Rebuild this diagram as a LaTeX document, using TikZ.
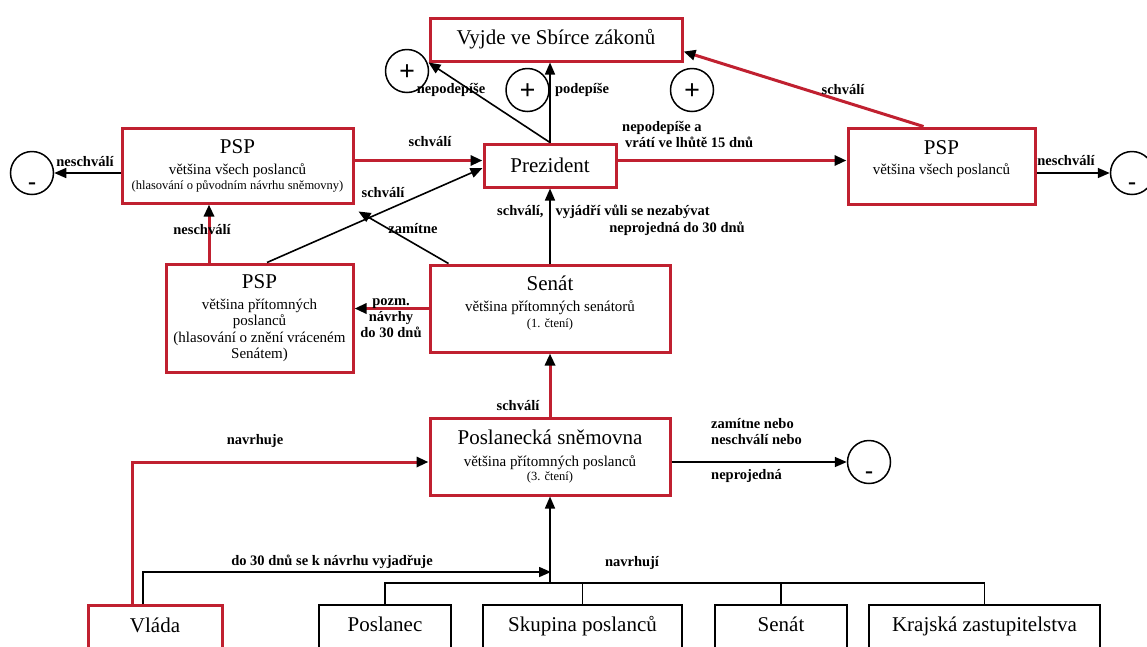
\documentclass[tikz,border=0pt]{standalone}
\usepackage{fontspec}
\setmainfont{Liberation Serif}
\usepackage{tikz}
\usetikzlibrary{arrows.meta}

\definecolor{lawred}{RGB}{192,32,48}

\newcommand{\ttlsize}{\fontsize{21}{24}\selectfont}
\newcommand{\subsize}{\fontsize{15}{16.5}\selectfont}
\newcommand{\smallsize}{\fontsize{12.5}{15}\selectfont}

\tikzset{
  redbox/.style={draw=lawred, line width=3pt, align=center, font=\subsize, inner sep=0pt},
  blackbox/.style={draw, line width=1.5pt, inner sep=0pt},
  bottombox/.style={anchor=north, font=\ttlsize, text height=27pt, text depth=25pt},
  signcirc/.style={draw, circle, line width=1.5pt, minimum size=43pt, inner sep=0pt},
  pluscirc/.style={signcirc, font=\fontsize{28}{28}\selectfont\bfseries, text height=18pt, text depth=0pt},
  minuscirc/.style={signcirc, font=\fontsize{24}{24}\selectfont\bfseries, text height=32pt, text depth=0pt},
  lbl/.style={font=\fontsize{14.5}{16}\selectfont\bfseries, inner sep=0pt},
  headtip/.style={-{Triangle[length=12pt,width=10pt,color=black]}},
  redarr/.style={draw=lawred, line width=3pt, headtip},
  blkarr/.style={draw=black, line width=1.6pt, headtip},
  blkline/.style={draw=black, line width=1.5pt}
}

\begin{document}
\begin{tikzpicture}[x=1pt, y=-1pt]

%\draw [help lines, step=50pt] (0,0) grid (1147,646);
\useasboundingbox (0,0) rectangle (1147,646);
\clip (0,0) rectangle (1147,646);

% boxes
\node [redbox, font=\ttlsize, minimum width=252pt, minimum height=43pt] (vyjde) at (556,39.5) {Vyjde ve Sbírce zákonů};
\node [redbox, font=\ttlsize, minimum width=132pt, minimum height=43pt] (prez) at (550,165.5) {Prezident};
\node [redbox, minimum width=231pt, minimum height=75pt] (pspA) at (237.5,165.5) {{\ttlsize PSP}\\[4.5pt] většina všech poslanců\\[-1.5pt] {\smallsize (hlasování o původním návrhu sněmovny)}};
\node [redbox, minimum width=187pt, minimum height=76pt, text depth=17pt] (pspB) at (941.5,166) {{\ttlsize PSP}\\[3.5pt] většina všech poslanců};
\node [redbox, minimum width=187pt, minimum height=108pt] (pspC) at (259.5,318) {{\ttlsize PSP}\\[4.5pt] většina přítomných\\ poslanců\\ (hlasování o znění vráceném\\ Senátem)};
\node [redbox, minimum width=240pt, minimum height=87pt, text depth=14pt] (senat) at (550,308.5) {{\ttlsize Senát}\\[4.5pt] většina přítomných senátorů\\ {\smallsize (1. čtení)}};
\node [redbox, minimum width=240pt, minimum height=77pt] (snem) at (550,456.5) {{\ttlsize Poslanecká sněmovna}\\[5pt] většina přítomných poslanců\\[-2.5pt] {\smallsize (3. čtení)}};

\node [redbox, bottombox, minimum width=134pt] (vlada) at (155,604) {Vláda};
\node [blackbox, bottombox, minimum width=132pt] (poslanec) at (385,604) {Poslanec};
\node [blackbox, bottombox, minimum width=199pt] (skupina) at (582.5,604) {Skupina poslanců};
\node [blackbox, bottombox, minimum width=132pt] (senatN) at (781,604) {Senát};
\node [blackbox, bottombox, minimum width=231pt] (kraj) at (984.5,604) {Krajská zastupitelstva};

% plus and minus
\node [pluscirc] (plusL) at (407,71) {+};
\node [pluscirc] (plusM) at (527.5,90) {+};
\node [pluscirc] (plusR) at (692,90) {+};
\node [minuscirc] (minusL) at (32,173) {-};
\node [minuscirc] (minusR) at (1132,173) {-};
\node [minuscirc] (minusS) at (869,462) {-};

% connectors
\coordinate (pa) at ([yshift=5pt]prez.west);
\draw [redarr] (pspA.east |- pa) -- (pa);
\draw [redarr] (prez.east |- pa) -- (pspB.west |- pa);
\draw [blkarr] (prez.north) -- (vyjde.south west);
\draw [blkarr] (prez.north) -- (prez.north |- vyjde.south);
\draw [redarr] ([xshift=-18pt]pspB.north) -- ([yshift=-12pt]vyjde.east);
\draw [blkarr] (pspA.west |- minusL) -- (minusL);
\draw [blkarr] (pspB.east |- minusR) -- (minusR);
\draw [redarr] ([xshift=-50.5pt]pspC.north) -- ([xshift=-50.5pt]pspC.north |- pspA.south);
\draw [blkarr] ([xshift=7.5pt]pspC.north) -- ([yshift=-2.5pt]prez.west);
\draw [blkarr] ([xshift=20pt]senat.north west) -- ([shift={(4pt,-7pt)}]pspA.south east);
\draw [blkarr] (senat.north) -- (prez.south);
\draw [redarr] (senat.west) -- (pspC.east |- senat.west);
\draw [redarr] (snem.north) -- (senat.south);
\draw [blkarr] (snem.east |- minusS) -- (minusS);
\draw [redarr] ([xshift=-23pt]vlada.north) |- ([yshift=-5.5pt]snem.west);

\coordinate (vyj) at (551,572);
\coordinate (bus) at (550,583);
\draw [blkarr] ([xshift=-12pt]vlada.north) |- (vyj);
\draw [blkarr] (bus) -- (snem.south);
\draw [blkline] (poslanec.north) |- (bus) -| (kraj.north);
\draw [blkline] (skupina.north) -- (skupina.north |- bus);
\draw [blkline] (senatN.north) -- (senatN.north |- bus);

% labels
\node [lbl] (lNepod) at (451,90) {nepodepíše};
\node [lbl] (lPod) at (582,90) {podepíše};
\node [lbl] (lSchvR) at (843,90) {schválí};
\node [lbl] (lSchvA) at (430,142) {schválí};
\node [lbl, anchor=west, align=left] (lVrati) at (622,134.5) {nepodepíše a\\ \hspace*{3pt}vrátí ve lhůtě 15 dnů};
\node [lbl] (lNeschvL) at (85,162) {neschválí};
\node [lbl] (lNeschvR) at (1066,161) {neschválí};
\node [lbl] (lNeschvC) at (202,230) {neschválí};
\node [lbl] (lSchvC) at (383,193) {schválí};
\node [lbl] (lZam) at (413,229) {zamítne};
\node [lbl, anchor=west] (lVule) at (497,212) {schválí,\hspace{12pt}vyjádří vůli se nezabývat};
\node [lbl] (lNeproj30) at (677,229) {neprojedná do 30 dnů};
\node [lbl, align=center] (lPozm) at (391,318) {pozm.\\ návrhy\\ do 30 dnů};
\node [lbl] (lSchvS) at (518,406) {schválí};
\node [lbl, anchor=west, align=left] (lZamNebo) at (711,431.5) {zamítne nebo\\ neschválí nebo};
\node [lbl, anchor=west] (lNeproj) at (711,476) {neprojedná};
\node [lbl] (lNavrhuje) at (255,441) {navrhuje};
\node [lbl] (lVyjadr) at (332,562) {do 30 dnů se k návrhu vyjadřuje};
\node [lbl] (lNavrhuji) at (632,563) {navrhují};

\end{tikzpicture}
\end{document}
